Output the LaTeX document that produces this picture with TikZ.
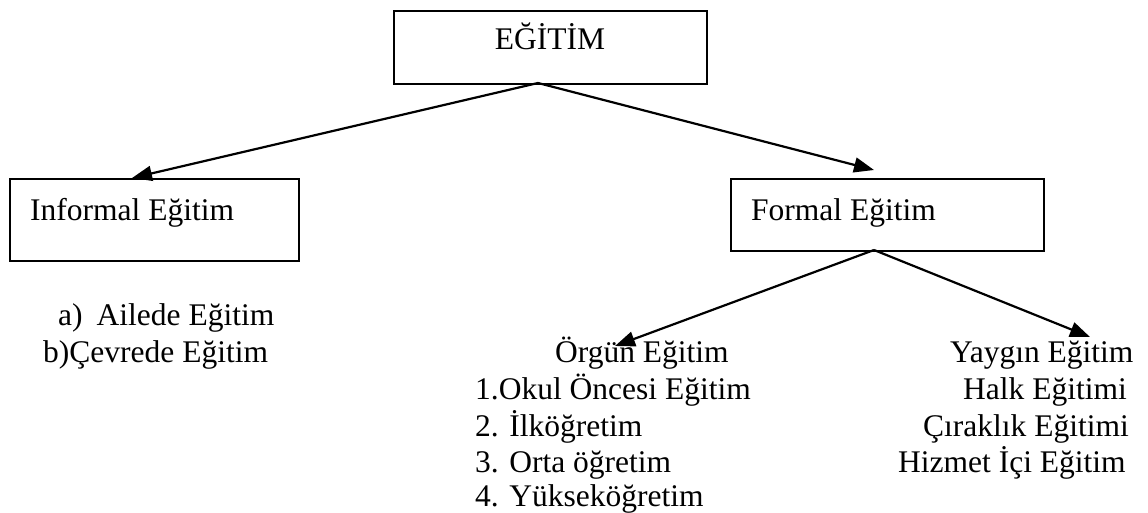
\documentclass[tikz,border=0pt]{standalone}
\usepackage{fontspec}
\setmainfont{Liberation Serif}
\usetikzlibrary{arrows.meta}
\begin{document}
\begin{tikzpicture}[x=1pt,y=-1pt,
  box/.style={draw=black, line width=1.6pt, rectangle, inner sep=0pt, anchor=north west},
  txt/.style={font=\fontsize{31.5}{36}\selectfont, inner sep=0pt, anchor=base west},
  arr/.style={line width=2.2pt, -{Triangle[length=20pt,width=15pt]}}]
\useasboundingbox (0,0) rectangle (1148,513);
% boxes
\node[box, minimum width=313pt, minimum height=73pt] (egitim) at (393,10) {};
\node[txt, anchor=base] (egitimt) at (550,50) {EĞİTİM};
\node[box, minimum width=289pt, minimum height=82pt] (inf) at (9,178) {};
\node[txt] (inft) at (30,221) {Informal Eğitim};
\node[box, minimum width=313pt, minimum height=72pt] (for) at (730,178) {};
\node[txt] (fort) at (751,221) {Formal Eğitim};
% anchors of connectors
\coordinate (egapex) at (538,83);
\coordinate (forapex) at (874,250);
\coordinate (inftip) at (132,178);
\coordinate (fortip) at (874,170);
% lists
\node[txt] (ail) at (58,325) {a)\hspace{14pt}Ailede Eğitim};
\node[txt] (cev) at (43,362) {b)Çevrede Eğitim};
\node[txt] (org) at (555,362) {Örgün Eğitim};
\node[txt] (o1) at (475,399) {1.Okul Öncesi Eğitim};
\node[txt] (o2) at (475,436) {2. İlköğretim};
\node[txt] (o3) at (475,472) {3. Orta öğretim};
\node[txt] (o4) at (475,506) {4. Yükseköğretim};
\node[txt] (yay) at (950,362) {Yaygın Eğitim};
\node[txt] (y1) at (963,399) {Halk Eğitimi};
\node[txt] (y2) at (923,436) {Çıraklık Eğitimi};
\node[txt] (y3) at (898,472) {Hizmet İçi Eğitim};
\coordinate (orgtip) at (615,346);
\coordinate (yaytip) at (1090,337);
% connectors
\draw[arr] (egapex) -- (inftip);
\draw[arr] (egapex) -- (fortip);
\draw[arr] (forapex) -- (orgtip);
\draw[arr] (forapex) -- (yaytip);
\end{tikzpicture}
\end{document}
